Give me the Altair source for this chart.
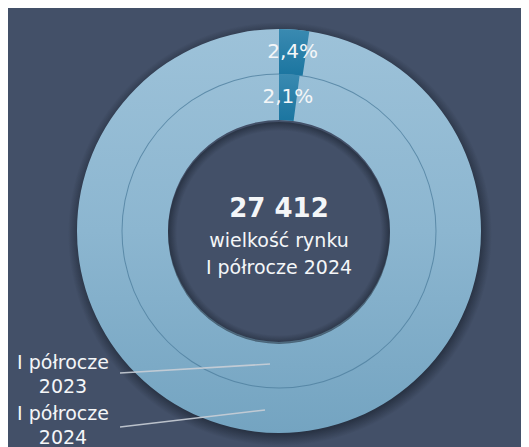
import altair as alt
import pandas as pd

# ---- data -------------------------------------------------------------
rings = ["2023", "2024"]
shares = [2.1, 2.4]                    # % share of the highlighted segment
share_labels = ["2,1%", "2,4%"]
total_label = "27 412"
center_lines = ["wielkość rynku", "I półrocze 2024"]
left_labels = ["I półrocze\n2023", "I półrocze\n2024"]

rows = []
for ring, s, lab in zip(rings, shares, share_labels):
    rows.append({"ring": ring, "part": "seg", "ord": 0, "value": s, "label": lab})
    rows.append({"ring": ring, "part": "rest", "ord": 1, "value": round(100 - s, 1), "label": ""})
df = pd.DataFrame(rows)
full = pd.DataFrame({"value": [100]})

# ---- style -----------------------------------------------------------
BG = "#435068"
FONT = "DejaVu Sans"
TXT = "#f4f6f8"
CX, CY = 271, 223
R_HOLE, R_MID, R_OUT = 111, 157, 202

light = {"gradient": "linear", "x1": 0, "y1": 0, "x2": 0, "y2": 1,
         "stops": [{"offset": 0, "color": "#9dc2d9"},
                   {"offset": 0.5, "color": "#8cb6d0"},
                   {"offset": 1, "color": "#74a4c1"}]}
dark = {"gradient": "linear", "x1": 0, "y1": 0, "x2": 0, "y2": 1,
        "stops": [{"offset": 0, "color": "#3a8ab1"},
                  {"offset": 1, "color": "#1b75a0"}]}
pad = 10
rr = R_OUT + pad
outer_shadow = {"gradient": "radial", "x1": 0.5, "y1": 0.5, "x2": 0.5, "y2": 0.5,
                "r1": (R_OUT - 2) / (2 * rr), "r2": 0.5,
                "stops": [{"offset": 0, "color": "rgba(20,28,40,0.55)"},
                          {"offset": 1, "color": "rgba(20,28,40,0)"}]}
hr = R_HOLE
inner_shadow = {"gradient": "radial", "x1": 0.5, "y1": 0.5, "x2": 0.5, "y2": 0.5,
                "r1": (hr - 9) / (2 * hr), "r2": 0.5,
                "stops": [{"offset": 0, "color": "rgba(20,28,40,0)"},
                          {"offset": 1, "color": "rgba(20,28,40,0.55)"}]}

theta_full = alt.Theta("value:Q", stack=True, scale=alt.Scale(domain=[0, 100]))

def pos(dx=0, dy=0):
    return dict(x=alt.value(CX + dx), y=alt.value(CY + dy))

shadow = alt.Chart(full).mark_arc(innerRadius=R_OUT - 6, outerRadius=rr, fill=outer_shadow).encode(
    theta=theta_full, **pos(1, 3))

base_ring = alt.Chart(full).mark_arc(innerRadius=R_HOLE, outerRadius=R_OUT, fill=light).encode(
    theta=theta_full, **pos())

boundary = alt.Chart(full).mark_arc(innerRadius=R_MID - 0.5, outerRadius=R_MID + 0.5,
                                     fill="#4f7f9f", opacity=0.8).encode(theta=theta_full, **pos())

hole_shadow = alt.Chart(full).mark_arc(innerRadius=0, outerRadius=hr, fill=inner_shadow).encode(
    theta=theta_full, **pos(0, 2))

def seg_layer(ring, r_in, r_out):
    return alt.Chart(df).transform_filter(alt.datum.ring == ring).mark_arc(
        innerRadius=r_in, outerRadius=r_out, fill=dark).encode(
        theta=theta_full,
        order=alt.Order("ord:Q"),
        opacity=alt.condition(alt.datum.part == "seg", alt.value(1), alt.value(0)),
        **pos())

def pct_layer(ring, radius):
    return alt.Chart(df).transform_filter(alt.datum.ring == ring).mark_text(
        radius=radius, font=FONT, fontSize=20, color=TXT, align="center", baseline="middle").encode(
        theta=theta_full, order=alt.Order("ord:Q"), text="label:N", **pos())

seg_out = seg_layer("2024", R_MID, R_OUT)
seg_in = seg_layer("2023", R_HOLE, R_MID)
pct_out = pct_layer("2024", 180)
pct_in = pct_layer("2023", 134)

center_total = alt.Chart(pd.DataFrame({"t": [total_label]})).mark_text(
    font=FONT, fontSize=26, fontWeight="bold", color=TXT, align="center", baseline="middle").encode(
    text="t:N", x=alt.value(CX), y=alt.value(CY - 22))
center_l1 = alt.Chart(pd.DataFrame({"t": [center_lines[0]]})).mark_text(
    font=FONT, fontSize=19, color=TXT, align="center", baseline="middle").encode(
    text="t:N", x=alt.value(CX), y=alt.value(CY + 10))
center_l2 = alt.Chart(pd.DataFrame({"t": [center_lines[1]]})).mark_text(
    font=FONT, fontSize=19, color=TXT, align="center", baseline="middle").encode(
    text="t:N", x=alt.value(CX), y=alt.value(CY + 37))

lab1 = alt.Chart(pd.DataFrame({"t": [left_labels[0]]})).mark_text(
    font=FONT, fontSize=19, color=TXT, align="center", baseline="alphabetic",
    lineBreak="\n", lineHeight=24).encode(text="t:N", x=alt.value(55), y=alt.value(361))
lab2 = alt.Chart(pd.DataFrame({"t": [left_labels[1]]})).mark_text(
    font=FONT, fontSize=19, color=TXT, align="center", baseline="alphabetic",
    lineBreak="\n", lineHeight=24).encode(text="t:N", x=alt.value(55), y=alt.value(412))

rule1 = alt.Chart(full).mark_rule(color="#c9ced6", strokeWidth=1.6, opacity=0.9).encode(
    x=alt.value(112), y=alt.value(365), x2=alt.value(262), y2=alt.value(356))
rule2 = alt.Chart(full).mark_rule(color="#c9ced6", strokeWidth=1.6, opacity=0.9).encode(
    x=alt.value(112), y=alt.value(419), x2=alt.value(257), y2=alt.value(402))

chart = alt.layer(
    shadow, base_ring, hole_shadow, boundary, seg_out, seg_in, pct_out, pct_in,
    center_total, center_l1, center_l2, lab1, lab2, rule1, rule2
).properties(
    width=513, height=431, padding=0, background=BG
).configure_view(strokeWidth=0, fill=BG)

chart.save("out.html", embed_options={"renderer": "svg", "actions": False})
